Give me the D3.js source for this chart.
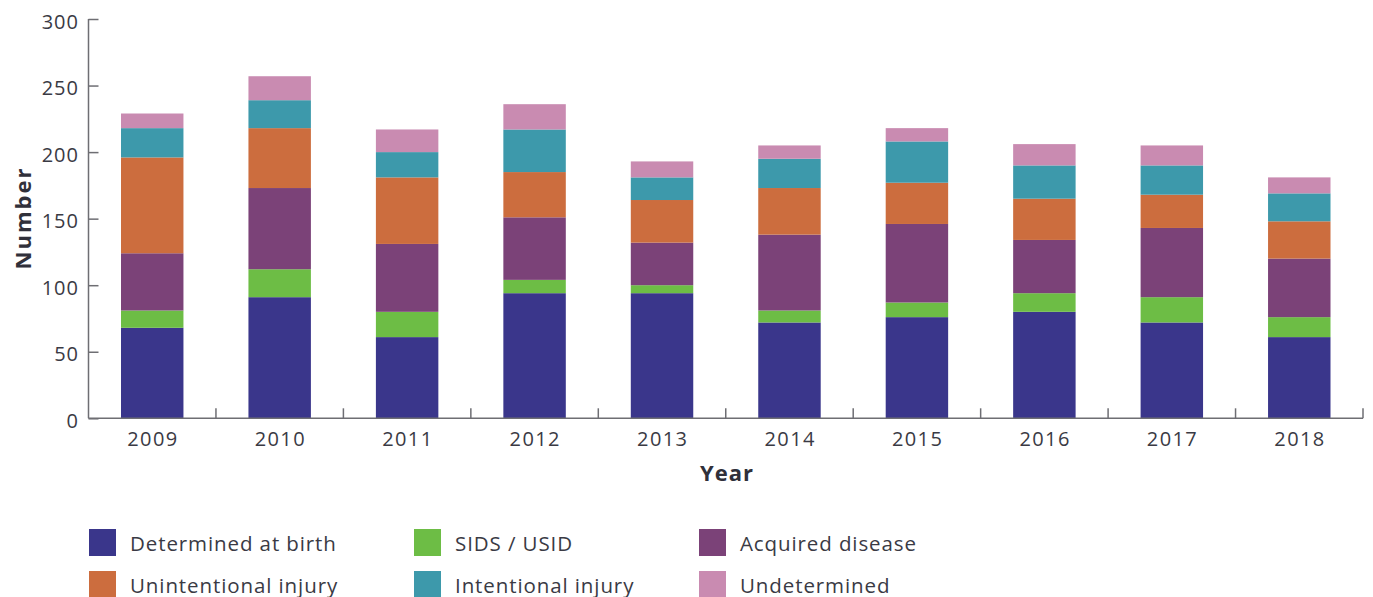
<!DOCTYPE html>
<html>
<head>
<meta charset="utf-8">
<script src="https://cdn.jsdelivr.net/npm/d3@7"></script>
<style>
  body { margin: 0; background: #fff; }
  svg { display: block; }
  text { font-family: "Open Sans", Lato, sans-serif; fill: #3a3a44; }
</style>
</head>
<body>
<svg id="chart" width="1373" height="597"></svg>
<script>
const years = ["2009","2010","2011","2012","2013","2014","2015","2016","2017","2018"];
const seriesNames = ["Determined at birth","SIDS / USID","Acquired disease","Unintentional injury","Intentional injury","Undetermined"];
const determinedAtBirth   = [68, 91, 61, 94, 94, 72, 76, 80, 72, 61];
const sidsUsid            = [13, 21, 19, 10,  6,  9, 11, 14, 19, 15];
const acquiredDisease     = [43, 61, 51, 47, 32, 57, 59, 40, 52, 44];
const unintentionalInjury = [72, 45, 50, 34, 32, 35, 31, 31, 25, 28];
const intentionalInjury   = [22, 21, 19, 32, 17, 22, 31, 25, 22, 21];
const undetermined        = [11, 18, 17, 19, 12, 10, 10, 16, 15, 12];
const yTicks = [0, 50, 100, 150, 200, 250, 300];
const colors = ["#3a368b","#6dbd45","#7b4278","#cc6d3e","#3d99ab","#c98bb1"];

const seriesValues = [determinedAtBirth, sidsUsid, acquiredDisease, unintentionalInjury, intentionalInjury, undetermined];
const table = years.map((y, i) => {
  const row = { year: y };
  seriesNames.forEach((s, k) => row[s] = seriesValues[k][i]);
  return row;
});

const svg = d3.select("#chart");
const x0 = 88.5, x1 = 1363, yBottom = 418.3, yTop = 19;

const x = d3.scaleBand().domain(years).range([x0, x1]).paddingInner(0.51).paddingOuter(0.255);
const y = d3.scaleLinear().domain([0, 300]).range([yBottom, yTop]);
const color = d3.scaleOrdinal().domain(seriesNames).range(colors);

const stack = d3.stack().keys(seriesNames)(table);

svg.append("g").selectAll("g").data(stack).join("g")
  .attr("fill", d => color(d.key))
  .selectAll("rect").data(d => d).join("rect")
  .attr("x", d => x(d.data.year))
  .attr("width", x.bandwidth())
  .attr("y", d => y(d[1]))
  .attr("height", d => y(d[0]) - y(d[1]));

const axisColor = "#6e6e73";

// Y axis
const yAxis = svg.append("g").attr("transform", `translate(${x0},0)`)
  .call(d3.axisRight(y).tickValues(yTicks).tickSize(10).tickFormat(""));
yAxis.select(".domain").attr("stroke", axisColor).attr("stroke-width", 1.5).attr("d", `M0,${yTop}V${yBottom}`);
yAxis.selectAll(".tick line").attr("stroke", axisColor).attr("stroke-width", 1.5);
svg.append("g").selectAll("text").data(yTicks).join("text")
  .attr("x", 79).attr("y", d => y(d) + 9.5)
  .attr("text-anchor", "end")
  .style("font-size", "20px").style("letter-spacing", "1px")
  .text(d => d);

// X axis
const bounds = years.map(yv => x(yv) - x.step() * x.paddingInner() / 2);
bounds.push(x1);
const xAxisG = svg.append("g");
xAxisG.append("line").attr("x1", x0).attr("x2", x1).attr("y1", yBottom).attr("y2", yBottom)
  .attr("stroke", axisColor).attr("stroke-width", 1.5);
xAxisG.selectAll("line.tk").data(bounds.slice(1)).join("line").attr("class", "tk")
  .attr("x1", d => d).attr("x2", d => d).attr("y1", yBottom).attr("y2", yBottom - 10)
  .attr("stroke", axisColor).attr("stroke-width", 1.5);
svg.append("g").selectAll("text").data(years).join("text")
  .attr("x", d => x(d) + x.bandwidth() / 2 + 0.7).attr("y", 445.5)
  .attr("text-anchor", "middle")
  .style("font-size", "20px").style("letter-spacing", "1.4px")
  .text(d => d);

// Axis titles
svg.append("text").attr("x", 727).attr("y", 481)
  .attr("text-anchor", "middle").style("font-size", "22px").style("font-weight", "bold")
  .style("letter-spacing", "1px")
  .style("fill", "#30303a").text("Year");
svg.append("text").attr("transform", "translate(31,218) rotate(-90)")
  .attr("text-anchor", "middle").style("font-size", "22px").style("font-weight", "bold")
  .style("letter-spacing", "2px")
  .style("fill", "#30303a").text("Number");

// Legend
const legendCols = [89, 414, 699];
const legendRows = [529, 571];
const lg = svg.append("g").selectAll("g").data(seriesNames).join("g")
  .attr("transform", (d, i) => `translate(${legendCols[i % 3]},${legendRows[Math.floor(i / 3)]})`);
lg.append("rect").attr("width", 27).attr("height", 27).attr("fill", d => color(d));
lg.append("text").attr("x", 41).attr("y", 21.5)
  .style("font-size", "20.5px").style("letter-spacing", "0.9px").text(d => d);
</script>
</body>
</html>
